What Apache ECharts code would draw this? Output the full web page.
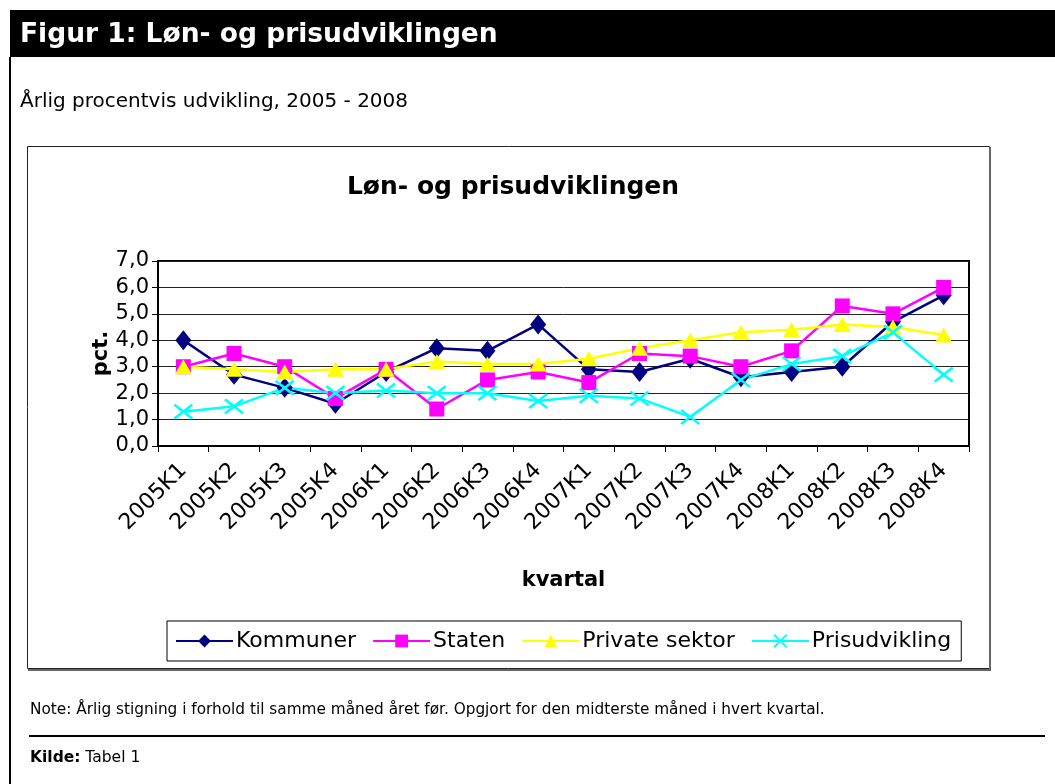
<!DOCTYPE html>
<html>
<head>
<meta charset="utf-8">
<script src="https://cdn.jsdelivr.net/npm/echarts@6/dist/echarts.min.js"></script>
<style>
html,body{margin:0;padding:0;background:#fff;}
#chart{width:1055px;height:784px;}
</style>
</head>
<body>
<div id="chart"></div>
<script>
const categories = ['2005K1','2005K2','2005K3','2005K4','2006K1','2006K2','2006K3','2006K4','2007K1','2007K2','2007K3','2007K4','2008K1','2008K2','2008K3','2008K4'];
const kommuner = [4.0, 2.7, 2.2, 1.6, 2.8, 3.7, 3.6, 4.6, 2.9, 2.8, 3.3, 2.6, 2.8, 3.0, 4.7, 5.7];
const staten = [3.0, 3.5, 3.0, 1.8, 2.9, 1.4, 2.5, 2.8, 2.4, 3.5, 3.4, 3.0, 3.6, 5.3, 5.0, 6.0];
const privat = [3.0, 2.9, 2.8, 2.9, 2.9, 3.2, 3.1, 3.1, 3.3, 3.7, 4.0, 4.3, 4.4, 4.6, 4.5, 4.2];
const prisudvikling = [1.3, 1.5, 2.2, 2.0, 2.1, 2.0, 2.0, 1.7, 1.9, 1.8, 1.1, 2.5, 3.1, 3.4, 4.3, 2.7];
const seriesNames = ['Kommuner','Staten','Private sektor','Prisudvikling'];

const chart = echarts.init(document.getElementById('chart'), null, {renderer:'canvas'});
const F = 'DejaVu Sans';
const option = {
  animation:false,
  backgroundColor:'#fff',
  title:{
    text:'Løn- og prisudviklingen',
    left:508, top:170, textAlign:'center',
    textStyle:{fontFamily:F, fontWeight:'bold', fontSize:25, color:'#000'}
  },
  graphic:[
    {type:'rect', shape:{x:10,y:10,width:1045,height:47}, style:{fill:'#000'}},
    {type:'text', left:20, top:22, style:{text:'Figur 1: Løn- og prisudviklingen', fill:'#fff', font:'bold 26.5px "DejaVu Sans"'}},
    {type:'rect', shape:{x:9,y:57,width:2,height:727}, style:{fill:'#000'}},
    {type:'text', left:20, top:92, style:{text:'Årlig procentvis udvikling, 2005 - 2008', fill:'#000', font:'20px "DejaVu Sans"'}},
    {type:'rect', shape:{x:27.5,y:146.5,width:962,height:522}, style:{fill:'none', stroke:'#222', lineWidth:1}},
    {type:'rect', shape:{x:989,y:147,width:2,height:523}, style:{fill:'#666'}},
    {type:'rect', shape:{x:28,y:669,width:963,height:2}, style:{fill:'#666'}},
    {type:'text', left:30, top:703, style:{text:'Note: Årlig stigning i forhold til samme måned året før. Opgjort for den midterste måned i hvert kvartal.', fill:'#000', font:'15.3px "DejaVu Sans"'}},
    {type:'rect', shape:{x:29,y:735,width:1016,height:2}, style:{fill:'#000'}},
    {type:'text', left:30, top:750, style:{
      text:'{b|Kilde:} Tabel 1', fill:'#000', font:'15.5px "DejaVu Sans"',
      rich:{b:{fontWeight:'bold', fontSize:15.5, fontFamily:F}}
    }}
  ],
  legend:{
    data:seriesNames,
    left:167, top:621,
    padding:[9,10,9,8],
    itemGap:16,
    itemWidth:57, itemHeight:16,
    borderColor:'#000', borderWidth:1,
    textStyle:{fontFamily:F, fontSize:22, color:'#000', padding:[0,0,0,-2]}
  },
  grid:{left:158, top:261, width:811, height:185, show:true, borderColor:'#000', borderWidth:2, backgroundColor:'#fff'},
  xAxis:{
    type:'category', data:categories, boundaryGap:true,
    name:'kvartal', nameLocation:'middle', nameGap:124, nameMoveOverlap:false,
    nameTextStyle:{fontFamily:F, fontWeight:'bold', fontSize:21, color:'#000'},
    axisLine:{show:true, lineStyle:{color:'#000', width:2}},
    axisTick:{show:true, length:6, lineStyle:{color:'#000'}},
    axisLabel:{rotate:45, margin:21, fontFamily:F, fontSize:22, color:'#000'},
    splitLine:{show:false}
  },
  yAxis:{
    type:'value', min:0, max:7, interval:1,
    name:'pct.', nameLocation:'middle', nameGap:46, nameRotate:90, nameMoveOverlap:false,
    nameTextStyle:{fontFamily:F, fontWeight:'bold', fontSize:21, color:'#000'},
    axisLine:{show:true, lineStyle:{color:'#000', width:2}},
    axisTick:{show:true, length:6, lineStyle:{color:'#000'}},
    axisLabel:{margin:9, fontFamily:F, fontSize:21, color:'#000', formatter:v=>v.toFixed(1).replace('.',',')},
    splitLine:{show:true, lineStyle:{color:'#222', width:1}}
  },
  series:[
    {name:'Kommuner', type:'line', data:kommuner, symbol:'diamond', symbolSize:[16,20],
     lineStyle:{color:'#000080', width:2.5}, itemStyle:{color:'#000080'}},
    {name:'Staten', type:'line', data:staten, symbol:'rect', symbolSize:15,
     lineStyle:{color:'#FF00FF', width:2.5}, itemStyle:{color:'#FF00FF'}},
    {name:'Private sektor', type:'line', data:privat, symbol:'triangle', symbolSize:[17,15],
     lineStyle:{color:'#FFFF00', width:2.5}, itemStyle:{color:'#FFFF00'}},
    {name:'Prisudvikling', type:'line', data:prisudvikling, symbol:'path://M0,0L10,10M10,0L0,10', symbolSize:[18,14],
     lineStyle:{color:'#00FFFF', width:2.5}, itemStyle:{color:'rgba(0,0,0,0)', borderColor:'#00FFFF', borderWidth:2.5}}
  ]
};
chart.setOption(option);
</script>
</body>
</html>
